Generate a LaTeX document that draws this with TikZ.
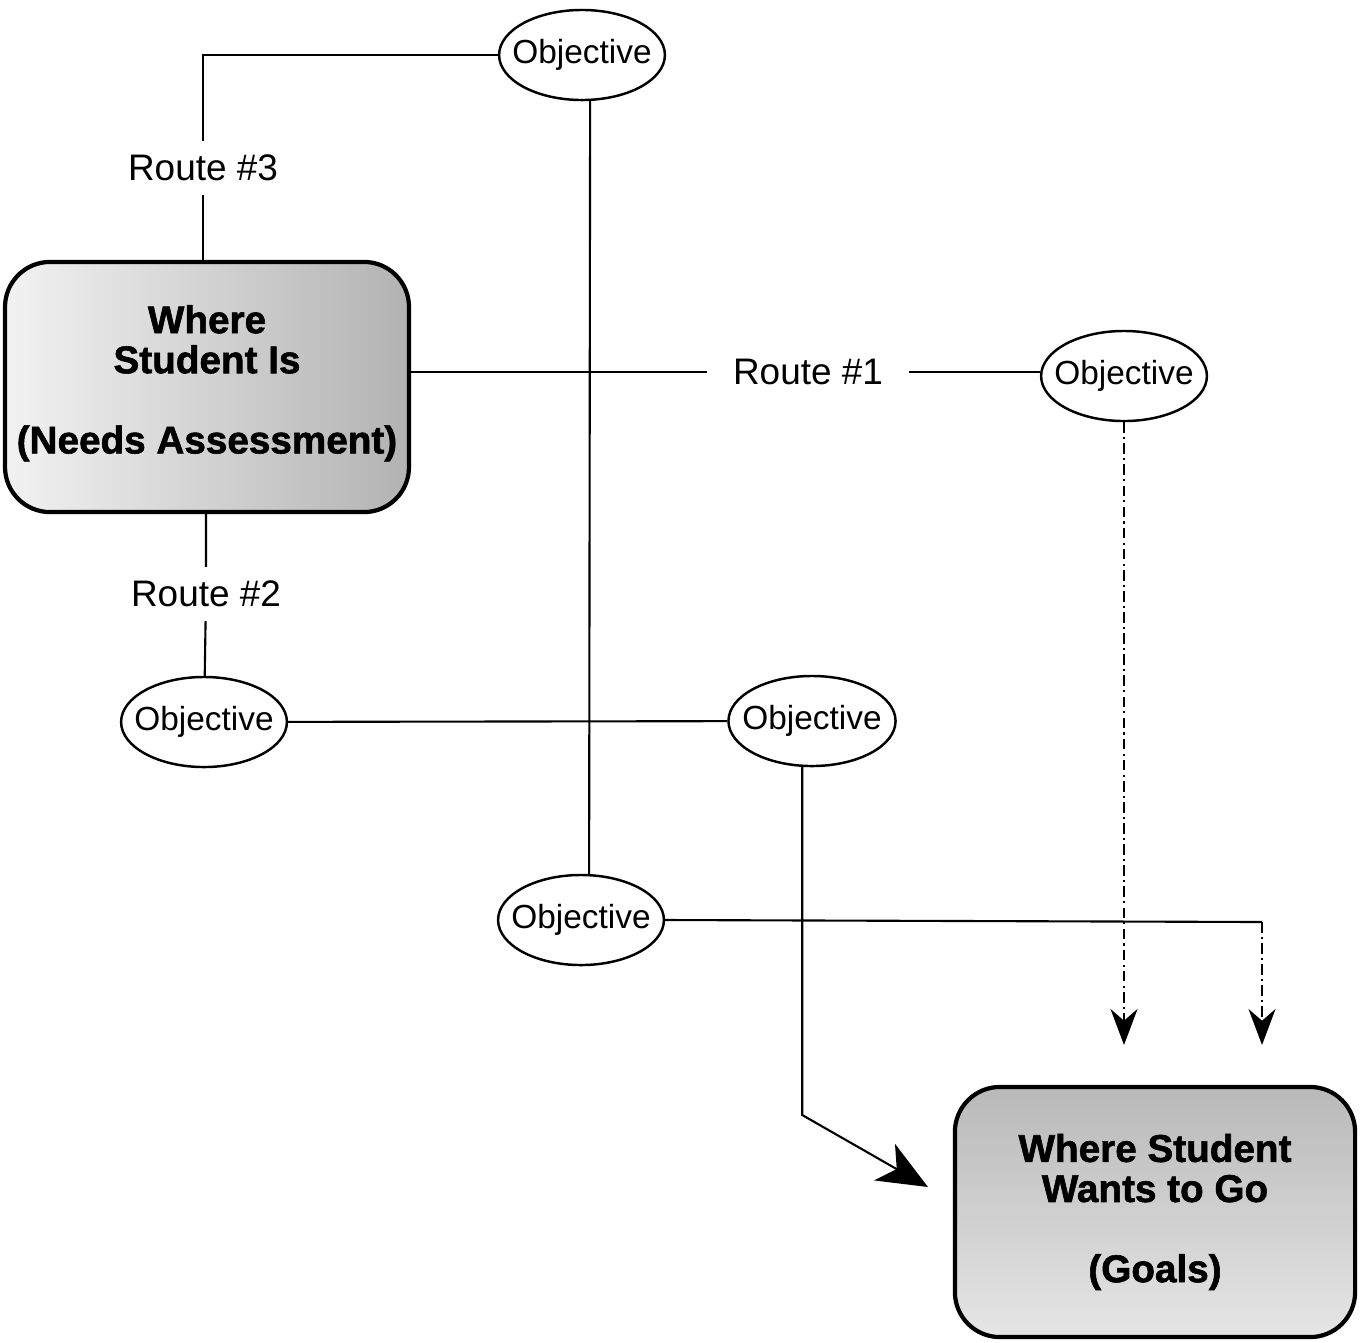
\documentclass[tikz,border=0pt]{standalone}
\usepackage{fontspec}
\setmainfont{Liberation Sans}
\newfontfamily\heavyfont[FakeBold=1.5]{Liberation Sans Bold}
\usetikzlibrary{arrows.meta, shapes.geometric}

\tikzset{
	obj/.style={draw, ellipse, line width=0.7pt, minimum width=1.64cm, minimum height=0.9cm, inner xsep=-0.11cm, inner ysep=0pt, font=\fontsize{9.5}{11}\selectfont},
	route/.style={inner xsep=0.25cm, inner ysep=0.13cm, font=\fontsize{10.5}{12}\selectfont},
	place/.style={draw, line width=1.2pt, rounded corners=0.45cm, minimum width=3.95cm, minimum height=2.5cm, align=center, font=\heavyfont\fontsize{11}{11.4}\selectfont},
	dashdot/.style={dash pattern=on 3pt off 1.2pt on 0.6pt off 1.2pt},
	bighead/.style={-{Stealth[length=0.5cm, width=0.42cm, inset=0.14cm]}},
	smallhead/.style={-{Stealth[length=0.36cm, width=0.27cm]}}
}

\begin{document}
\begin{tikzpicture}[x=0.01cm, y=-0.01cm, line width=0.6pt]
	\useasboundingbox (0,0) rectangle (1361,1342);
	
	\node[place, left color=gray!10, right color=gray!60] (needs) at (207,387) {Where\\Student Is\\[11.4pt](Needs Assessment)\\[-7pt]};
	\node[place, minimum width=4cm, top color=gray!55, bottom color=gray!20] (goals) at (1155,1212) {Where Student\\Wants to Go\\[11.4pt](Goals)};
	
	\node[obj] (objtop) at (582,55) {Objective};
	\node[obj] (objone) at (1124,376) {Objective};
	\node[obj] (objleft) at (204,722) {Objective};
	\node[obj, minimum width=1.67cm] (objmid) at (812,721) {Objective};
	\node[obj] (objbot) at (581,920) {Objective};
	
	\node[route] (rthree) at (203,168) {Route \#3};
	\node[route] (rone) at (808,372) {Route \#1};
	\node[route] (rtwo) at (206,594) {Route \#2};
	
	\coordinate (kink) at (802,1115);
	\coordinate (tipgoal) at (928,1187);
	\coordinate (corner) at (1262,922);
	\coordinate (tipone) at (1124,1045);
	\coordinate (tipbot) at (1262,1045);
	
	\draw (rthree |- needs.north) -- (rthree) |- (objtop.west);
	\draw (needs.east |- rone) -- (rone) -- (rone -| objone.west);
	\draw (rtwo |- needs.south) -- (rtwo) -- (objleft);
	\draw (objtop.-80) -- (objbot.80);
	\draw (objleft) -- (objmid);
	\draw[bighead] (objmid.-102) -- (objmid.-102 |- kink) -- (tipgoal);
	\draw (objbot.east) -- (corner);
	\draw[dashdot, smallhead] (corner) -- (tipbot);
	\draw[dashdot, smallhead] (objone.south) -- (tipone);
\end{tikzpicture}
\end{document}
